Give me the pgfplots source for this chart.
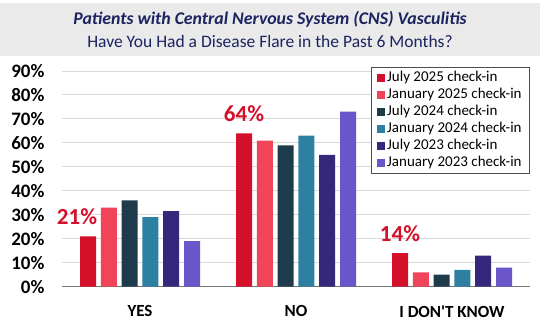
\documentclass[border=0pt]{standalone}
\usepackage{pgfplots}
\pgfplotsset{compat=1.18}
\usepackage{fontspec}
\setmainfont{Carlito}
\definecolor{cA}{HTML}{D5102A}
\definecolor{cB}{HTML}{F04558}
\definecolor{cC}{HTML}{1E3B4B}
\definecolor{cD}{HTML}{2E80A3}
\definecolor{cE}{HTML}{35287A}
\definecolor{cF}{HTML}{6B56C9}
\definecolor{navy}{HTML}{1B2460}
\definecolor{band}{HTML}{EAEAEA}
\begin{document}
\begin{tikzpicture}[x=1pt,y=1pt]
\useasboundingbox (0,0) rectangle (540,331);
\fill[white] (0,0) rectangle (540,331);
\fill[band] (0,331-56) rectangle (540,331-3);
\node[text=navy, font=\fontsize{17.8}{20}\selectfont\bfseries\itshape] at (270,331-19) {Patients with Central Nervous System (CNS) Vasculitis};
\node[text=navy, font=\fontsize{17.5}{20}\selectfont] at (270,331-41) {Have You Had a Disease Flare in the Past 6 Months?};
\begin{axis}[
  at={(62pt,44.3pt)}, anchor=south west,
  scale only axis, width=468pt, height=215.7pt,
  xmin=-0.5, xmax=2.5, ymin=0, ymax=90,
  ybar=4.8pt, bar width=16pt,
  axis x line*=bottom, axis y line*=left,
  y axis line style={draw=none},
  x axis line style={draw=black!55, line width=1.2pt},
  xtick={0,1,2}, xticklabels={YES,NO,I DON\textquotesingle T KNOW},
  xtick style={draw=none}, ytick style={draw=none},
  xticklabel style={font=\fontsize{17}{19}\selectfont\bfseries, yshift=-11pt},
  ytick={0,10,...,90},
  yticklabel={\pgfmathprintnumber{\tick}\%},
  /pgf/number format/assume math mode=true,
  yticklabel style={font=\fontsize{19}{21}\selectfont\bfseries, xshift=-14pt},
  ymajorgrids, major grid style={draw=black!15, line width=1pt},
  legend style={at={(1,1.0185)}, anchor=north east, draw=black!70, line width=0.8pt,
    font=\fontsize{15}{16}\selectfont, row sep=0pt, inner xsep=6pt, inner ysep=2pt,
    nodes={text height=10.5pt, text depth=3.5pt, inner ysep=1.5pt, inner xsep=2pt}},
  legend cell align=left,
  legend image code/.code={\fill[#1] (0pt,-4pt) rectangle (8pt,4pt);},
  clip=false,
]
\addplot[fill=cA, draw=none] coordinates {(0,21) (1,64) (2,14)};
\addplot[fill=cB, draw=none] coordinates {(0,33) (1,61) (2,6)};
\addplot[fill=cC, draw=none] coordinates {(0,36) (1,59) (2,5)};
\addplot[fill=cD, draw=none] coordinates {(0,29) (1,63) (2,7)};
\addplot[fill=cE, draw=none] coordinates {(0,31.5) (1,55) (2,13)};
\addplot[fill=cF, draw=none] coordinates {(0,19) (1,73) (2,8)};
\legend{July 2025 check-in, January 2025 check-in, July 2024 check-in, January 2024 check-in, July 2023 check-in, January 2023 check-in}
\node[anchor=base, text=cA, font=\fontsize{23}{25}\selectfont\bfseries, xshift=-11pt, yshift=12pt] at (axis cs:-0.3333,21) {21\%};
\node[anchor=base, text=cA, font=\fontsize{23}{25}\selectfont\bfseries, yshift=12pt] at (axis cs:0.6667,64) {64\%};
\node[anchor=base, text=cA, font=\fontsize{23}{25}\selectfont\bfseries, yshift=12pt] at (axis cs:1.6667,14) {14\%};
\end{axis}
\end{tikzpicture}
\end{document}
